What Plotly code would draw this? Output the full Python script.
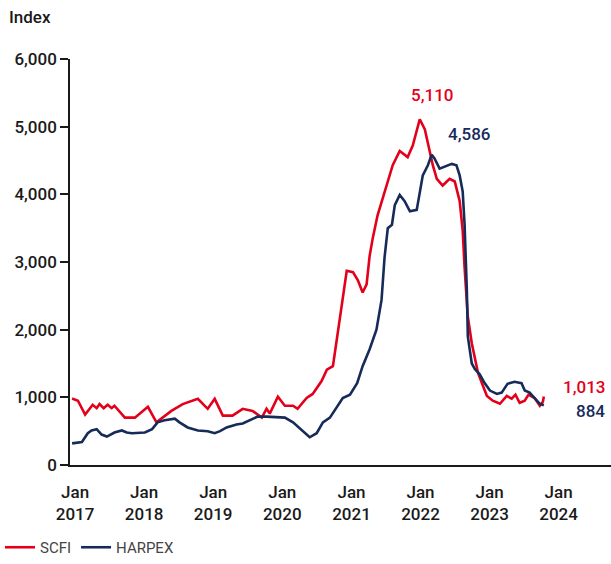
import plotly.graph_objects as go

scfi_dates = ["2016-12-16","2017-01-16","2017-02-23","2017-04-04","2017-04-25","2017-05-10","2017-06-01","2017-06-22","2017-07-13","2017-07-28",
              "2017-09-21","2017-11-13","2018-01-21","2018-03-07","2018-05-25","2018-07-24","2018-10-12","2018-12-03","2019-01-09","2019-02-21",
              "2019-04-13","2019-06-06","2019-07-28","2019-09-15","2019-10-10","2019-10-27","2019-12-09","2020-01-15","2020-02-27","2020-03-22",
              "2020-05-09","2020-06-10","2020-07-27","2020-08-24","2020-09-25","2020-10-15","2020-11-16","2020-12-07","2021-01-09","2021-02-04",
              "2021-03-01","2021-03-22","2021-04-07","2021-04-24","2021-05-19","2021-06-15","2021-07-12","2021-08-07","2021-09-13","2021-10-25",
              "2021-11-21","2021-12-28","2022-01-24","2022-02-20","2022-03-07","2022-03-28","2022-04-28","2022-06-04","2022-07-01","2022-07-27",
              "2022-08-12","2022-08-22","2022-09-08","2022-09-29","2022-10-15","2022-11-01","2022-11-27","2022-12-18","2023-01-18","2023-02-25",
              "2023-04-02","2023-04-28","2023-05-18","2023-06-09","2023-07-06","2023-07-26","2023-08-27","2023-09-24","2023-10-10","2023-10-15"]
scfi_values = [983, 950, 745, 890, 840, 900, 840, 890, 840, 876,
               700, 700, 860, 630, 800, 900, 978, 830, 978, 730,
               730, 830, 800, 700, 830, 760, 1010, 876, 876, 830,
               990, 1050, 1240, 1410, 1460, 1850, 2430, 2870, 2850, 2730,
               2550, 2670, 3090, 3360, 3690, 3940, 4190, 4430, 4640, 4550,
               4720, 5110, 4960, 4630, 4430, 4230, 4130, 4230, 4190, 3900,
               3460, 2920, 2190, 1800, 1600, 1360, 1170, 1020, 950, 905,
               1020, 980, 1040, 920, 950, 1040, 990, 876, 934, 1013]

harpex_dates = ["2016-12-16","2017-02-06","2017-03-09","2017-03-29","2017-04-25","2017-05-21","2017-06-18","2017-07-28","2017-09-05","2017-10-01",
                "2017-10-28","2018-01-05","2018-02-12","2018-03-13","2018-04-19","2018-06-12","2018-07-07","2018-08-19","2018-10-12","2018-12-03",
                "2019-01-09","2019-02-06","2019-03-13","2019-05-04","2019-06-06","2019-07-12","2019-08-24","2019-10-10","2020-01-15","2020-02-27",
                "2020-04-03","2020-05-25","2020-07-01","2020-08-03","2020-09-09","2020-10-15","2020-11-16","2020-12-24","2021-01-31","2021-03-01",
                "2021-04-07","2021-05-13","2021-06-09","2021-06-25","2021-07-12","2021-08-03","2021-08-18","2021-09-13","2021-10-09","2021-11-06",
                "2021-12-12","2022-01-13","2022-02-09","2022-03-01","2022-03-16","2022-04-12","2022-05-09","2022-06-15","2022-07-10","2022-07-27",
                "2022-08-12","2022-08-22","2022-09-03","2022-09-08","2022-09-29","2022-10-15","2022-11-10","2022-12-06","2023-01-03","2023-02-09",
                "2023-03-06","2023-04-06","2023-05-13","2023-06-19","2023-07-06","2023-08-01","2023-08-27","2023-09-24","2023-10-15"]
harpex_values = [320, 340, 470, 510, 530, 450, 420, 480, 510, 480,
                 470, 480, 530, 630, 660, 685, 630, 555, 510, 500,
                 470, 500, 555, 600, 613, 660, 715, 715, 700, 630,
                 540, 410, 470, 630, 700, 850, 990, 1040, 1210, 1460,
                 1710, 2000, 2440, 3070, 3500, 3550, 3840, 3990, 3900, 3750,
                 3770, 4280, 4430, 4586, 4530, 4380, 4410, 4450, 4430, 4280,
                 4040, 3550, 2580, 1900, 1500, 1420, 1340, 1210, 1100, 1050,
                 1070, 1200, 1230, 1210, 1100, 1070, 990, 905, 884]

tick_vals = ["2017-01-01","2018-01-01","2019-01-01","2020-01-01","2021-01-01","2022-01-01","2023-01-01","2024-01-01"]
tick_text = ["Jan<br>2017","Jan<br>2018","Jan<br>2019","Jan<br>2020","Jan<br>2021","Jan<br>2022","Jan<br>2023","Jan<br>2024"]

RED = "#E3001B"
NAVY = "#172B5A"
FONT = "Roboto"
TXT = "#1a1a1a"

fig = go.Figure()
fig.add_trace(go.Scatter(x=scfi_dates, y=scfi_values, mode="lines", name="SCFI",
                         line=dict(color=RED, width=2.6)))
fig.add_trace(go.Scatter(x=harpex_dates, y=harpex_values, mode="lines", name="HARPEX",
                         line=dict(color=NAVY, width=2.6)))

fig.add_annotation(x="2021-12-28", y=5110, xref="x", yref="y", text="5,110", showarrow=False,
                   font=dict(color=RED, size=17, family=FONT, weight=500), xanchor="center", yanchor="bottom",
                   xshift=12, yshift=12)
fig.add_annotation(x="2022-03-01", y=4586, xref="x", yref="y", text="4,586", showarrow=False,
                   font=dict(color=NAVY, size=17, family=FONT, weight=500), xanchor="left", yanchor="bottom",
                   xshift=14, yshift=9)
fig.add_annotation(x=1, y=scfi_values[-1], xref="paper", yref="y", text="1,013", showarrow=False,
                   font=dict(color=RED, size=17, family=FONT, weight=500), xanchor="right", yanchor="middle",
                   xshift=-4, yshift=9)
fig.add_annotation(x=1, y=harpex_values[-1], xref="paper", yref="y", text="884", showarrow=False,
                   font=dict(color=NAVY, size=17, family=FONT, weight=500), xanchor="right", yanchor="middle",
                   xshift=-4, yshift=-6)
fig.add_annotation(x=-63/541, y=1 + 43/411, xref="paper", yref="paper", text="Index", showarrow=False,
                   font=dict(color=TXT, size=17, family=FONT, weight=500), xanchor="left", yanchor="middle")

fig.update_layout(
    width=611, height=564,
    margin=dict(l=70, r=0, t=59, b=94),
    paper_bgcolor="white", plot_bgcolor="white",
    font=dict(family=FONT, size=17, color=TXT),
    showlegend=True,
    legend=dict(orientation="h", x=-70/541, y=-84/411, xanchor="left", yanchor="middle",
                font=dict(size=15, color="#444444", family=FONT), itemwidth=30,
                bgcolor="rgba(0,0,0,0)"),
)
fig.update_xaxes(range=["2016-12-05", "2024-10-04"], tickvals=tick_vals, ticktext=tick_text,
                 showline=True, linecolor=TXT, linewidth=1.5, showgrid=False, zeroline=False,
                 ticks="", ticklabelstandoff=11, tickfont=dict(size=17, family=FONT, color=TXT, weight=500))
fig.update_yaxes(range=[0, 6000], tickvals=[0, 1000, 2000, 3000, 4000, 5000, 6000], tickformat=",",
                 showline=True, linecolor=TXT, linewidth=1.5, showgrid=False, zeroline=False,
                 ticks="outside", ticklen=8, tickcolor=TXT, tickwidth=1.5,
                 tickfont=dict(size=17, family=FONT, color=TXT, weight=500))

fig.write_html("out.html", config={"displayModeBar": False},
               post_script="document.body.style.margin='0';")
